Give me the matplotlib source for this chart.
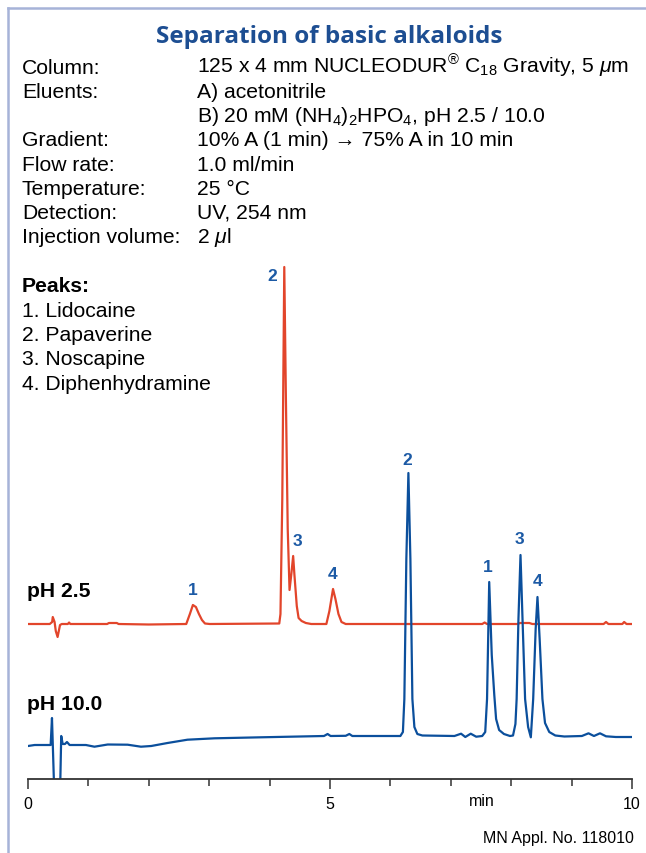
import matplotlib
matplotlib.use("Agg")
import matplotlib.pyplot as plt
from matplotlib.lines import Line2D

plt.rcParams['font.family'] = ['Liberation Sans', 'DejaVu Sans']
plt.rcParams['mathtext.fontset'] = 'custom'
plt.rcParams['mathtext.rm'] = 'Liberation Sans'
plt.rcParams['mathtext.it'] = 'Liberation Sans:italic'
plt.rcParams['mathtext.bf'] = 'Liberation Sans:bold'

# ---------------- data ----------------
title = "Separation of basic alkaloids"
cond_labels = ["Column:", "Eluents:", "", "Gradient:", "Flow rate:", "Temperature:",
               "Detection:", "Injection volume:"]
cond_values = [r"125 x 4 mm NUCLEODUR$^{®}$ C$_{18}$ Gravity, 5 $\mathit{μ}$m",
               "A) acetonitrile",
               r"B) 20 mM (NH$_{4}$)$_{2}$HPO$_{4}$, pH 2.5 / 10.0",
               "10% A (1 min) → 75% A in 10 min",
               "1.0 ml/min",
               "25 °C",
               "UV, 254 nm",
               r"2 $\mathit{μ}$l"]
peak_names = ["Lidocaine", "Papaverine", "Noscapine", "Diphenhydramine"]

# pH 2.5 trace (time in min, signal in arbitrary units above baseline)
red_t = [0.00, 0.36, 0.40, 0.41, 0.44, 0.46, 0.49, 0.51, 0.53, 0.56, 0.66, 0.68, 0.70,
         1.31, 1.34, 1.47, 1.50, 2.00, 2.62, 2.68, 2.73, 2.78, 2.83, 2.88, 2.93, 3.01,
         4.16, 4.18, 4.21, 4.243, 4.27, 4.30, 4.33, 4.36, 4.39, 4.41, 4.45, 4.48, 4.53,
         4.60, 4.69, 4.94, 4.99, 5.05, 5.09, 5.14, 5.19, 5.26, 7.52, 7.56, 7.60, 8.10,
         8.15, 8.30, 8.35, 9.53, 9.57, 9.61, 9.84, 9.87, 9.91, 10.0]
red_s = [0, 0, 2, 7, 2, -7, -13, -7, -1, 0, 0, 1.5, 0,
         0, 1, 1, 0, -0.5, 0, 10, 19, 17, 10, 4, 0.5, 0,
         0.5, 10, 125, 357, 225, 95, 34, 50, 68, 50, 18, 6, 3,
         1, 0, 0, 13, 35, 25, 10, 2, 0, 0, 1.5, 0, 0,
         1, 1, 0, 0, 2, 0, 0, 2, 0, 0]

# pH 10.0 trace
blue_t = [0.00, 0.11, 0.375, 0.397, 0.438, 0.529, 0.550, 0.574, 0.612, 0.645, 0.689,
          0.959, 1.10, 1.32, 1.65, 1.87, 2.04, 2.31, 2.64, 3.09, 3.86, 4.90, 4.96, 5.01,
          5.26, 5.32, 5.37, 6.165, 6.207, 6.231, 6.264, 6.298, 6.331, 6.364, 6.397, 6.446,
          6.529, 7.06, 7.17, 7.24, 7.33, 7.42, 7.52, 7.57, 7.60, 7.636, 7.678, 7.72, 7.75,
          7.80, 7.88, 7.98, 8.03, 8.07, 8.09, 8.12, 8.154, 8.19, 8.23, 8.28, 8.325, 8.364,
          8.405, 8.435, 8.471, 8.517, 8.56, 8.63, 8.73, 8.88, 9.17, 9.28, 9.37, 9.47, 9.57,
          9.73, 10.0]
blue_s = [-1, 0, 0, 27, -54, -54, 9, 1, 1, 3, 0,
          0, -1.7, 0.5, 0.3, -1.7, -1, 2, 5.3, 6.7, 7.7, 9, 11, 9,
          9.2, 11, 9, 9, 13, 46, 186, 272, 186, 46, 18, 11,
          9.5, 9, 11.3, 8, 11.3, 8.3, 9, 13, 46, 163, 90, 50, 26,
          15, 11, 9, 9.5, 21, 46, 126, 190, 121, 46, 18, 7.7, 46,
          116, 148, 106, 46, 22, 13, 9.5, 8.5, 9, 11.7, 9, 11.7, 8.7,
          8, 8]

peak_ids = ["1", "2", "3", "4"]
red_peak_t = [2.73, 4.243, 4.39, 5.05]
red_peak_s = [19, 357, 68, 35]
blue_peak_t = [7.636, 6.298, 8.154, 8.435]
blue_peak_s = [163, 272, 190, 148]

xticks_major = [0, 5, 10]
xticks_minor = [1, 2, 3, 4, 6, 7, 8, 9]

# ---------------- styling ----------------
W, H = 646, 854
RED = "#e2452b"
BLUE = "#0b4f9c"
LBLUE = "#1c5aa5"
TBLUE = "#1d4e92"
FRAME = "#a6b3d8"
red_offset = 155
blue_offset = 34
FS = 15.2

fig = plt.figure(figsize=(W / 100, H / 100), dpi=100)

def fx(px):
    return px / W

def fy(py):
    return 1 - py / H

# frame lines
fig.add_artist(Line2D([fx(8), fx(8)], [fy(9), 0], color=FRAME, lw=1.8))
fig.add_artist(Line2D([fx(8), 1], [fy(9), fy(9)], color=FRAME, lw=1.8))

fig.text(fx(329), fy(43), title, family=['Open Sans', 'DejaVu Sans'], fontweight='bold',
         fontsize=17.5, color=TBLUE, ha='center', va='baseline')

for k, (lab, val) in enumerate(zip(cond_labels, cond_values)):
    yb = 74 + 24.15 * k
    if lab:
        fig.text(fx(22), fy(yb), lab, fontsize=FS, ha='left', va='baseline')
    fig.text(fx(197), fy(yb), val, fontsize=FS, ha='left', va='baseline')

fig.text(fx(22), fy(292), "Peaks:", fontsize=FS, fontweight='bold', ha='left', va='baseline')
for k, name in enumerate(peak_names):
    fig.text(fx(22), fy(317 + 24.2 * k), f"{k + 1}. {name}", fontsize=FS,
             ha='left', va='baseline')

fig.text(fx(27), fy(597), "pH 2.5", fontsize=FS, fontweight='bold', ha='left', va='baseline')
fig.text(fx(27), fy(710), "pH 10.0", fontsize=FS, fontweight='bold', ha='left', va='baseline')

# chromatogram axes
ax = fig.add_axes([fx(28), fy(780), (632 - 28) / W, 520 / H])
ax.set_xlim(0, 10)
ax.set_ylim(0, 520)
ax.plot(red_t, [s + red_offset for s in red_s], color=RED, lw=1.6, solid_joinstyle='round')
ax.plot(blue_t, [s + blue_offset for s in blue_s], color=BLUE, lw=1.6, solid_joinstyle='round')

red_off = [(0, 11), (-9, -6), (3, 11), (0, 11)]
blue_off = [(-1, 11), (-1, 10), (-1, 12), (0, 12)]
for pid, t, s, (dx, dy) in zip(peak_ids, red_peak_t, red_peak_s, red_off):
    ax.annotate(pid, (t, s + red_offset), xytext=(dx, dy), textcoords='offset points',
                ha='center', va='center', fontsize=12.5, fontweight='bold', color=LBLUE)
for pid, t, s, (dx, dy) in zip(peak_ids, blue_peak_t, blue_peak_s, blue_off):
    ax.annotate(pid, (t, s + blue_offset), xytext=(dx, dy), textcoords='offset points',
                ha='center', va='center', fontsize=12.5, fontweight='bold', color=LBLUE)

for sp in ['left', 'right', 'top']:
    ax.spines[sp].set_visible(False)
ax.spines['bottom'].set_color('#333333')
ax.spines['bottom'].set_linewidth(1.3)
ax.set_yticks([])
ax.set_xticks(xticks_major)
ax.set_xticklabels([str(v) for v in xticks_major])
ax.set_xticks(xticks_minor, minor=True)
ax.tick_params(axis='x', which='major', length=7.5, width=1.1, color='#333333',
               labelsize=11.5, pad=4.5)
ax.tick_params(axis='x', which='minor', length=5, width=1.1, color='#333333')
ax.patch.set_visible(False)

fig.text(fx(482), fy(802), "min", fontsize=11.5, ha='center', va='center')
fig.text(fx(634), fy(843), "MN Appl. No. 118010", fontsize=11.5, ha='right', va='baseline')

fig.savefig("out.png", dpi=100)
